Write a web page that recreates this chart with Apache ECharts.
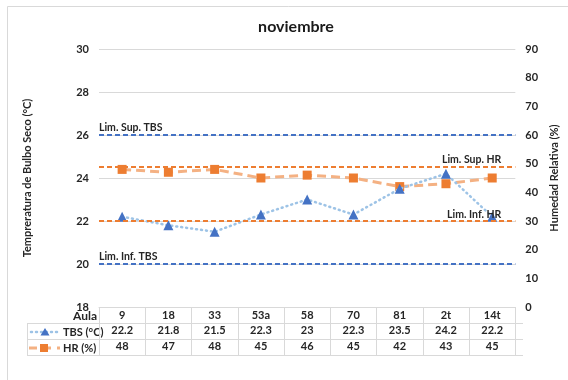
<!DOCTYPE html>
<html>
<head>
<meta charset="utf-8">
<script src="https://cdn.jsdelivr.net/npm/echarts@6/dist/echarts.min.js"></script>
<style>
  html, body { margin: 0; padding: 0; background: #fff; }
  #chart { width: 568px; height: 380px; }
</style>
</head>
<body>
<div id="chart"></div>
<script>
// Aulas (classrooms) measured in November
const aulas = ['9', '18', '33', '53a', '58', '70', '81', '2t', '14t'];
// Dry-bulb temperature (°C)
const tbs = [22.2, 21.8, 21.5, 22.3, 23, 22.3, 23.5, 24.2, 22.2];
// Relative humidity (%)
const hr = [48, 47, 48, 45, 46, 45, 42, 43, 45];

// Comfort limits
const limSupTBS = 26;
const limInfTBS = 20;
const limSupHR = 49;
const limInfHR = 30;

// Axis ranges
const tempAxis = { min: 18, max: 30, interval: 2 };
const humAxis = { min: 0, max: 90, interval: 10 };

const FONT = 'Lato';
const TXT = '#262626';
const GRIDC = '#d9d9d9';
const BLUE = '#4472c4';
const BLUE_L = '#9dc3e6';
const ORANGE = '#ed7d31';
const ORANGE_L = '#f4b183';

// Plot area and data-table layout
const G = { left: 99, right: 45, top: 49, bottom: 73 };
const W = 568, H = 380;
const plotR = W - G.right;          // 523
const plotB = H - G.bottom;         // 307
const rowH = 16;
const tableL = 27;

const chart = echarts.init(document.getElementById('chart'), null, { renderer: 'canvas' });

const boldLabel = { fontFamily: FONT, fontWeight: 'bold', fontSize: 11, color: TXT };

function tableAxis(values, offset) {
  return {
    type: 'category',
    data: values.map(String),
    position: 'bottom',
    offset: offset,
    boundaryGap: true,
    axisLine: { show: false },
    axisTick: { show: false },
    splitLine: { show: false },
    axisLabel: Object.assign({ margin: 2, interval: 0 }, boldLabel)
  };
}

const option = {
  backgroundColor: '#fff',
  animation: false,
  textStyle: { fontFamily: FONT },
  title: {
    text: 'noviembre',
    left: 291, top: 14,
    textAlign: 'center',
    textStyle: { fontFamily: FONT, fontWeight: 'bold', fontSize: 16, color: '#1a1a1a' }
  },
  grid: { left: G.left, right: G.right, top: G.top, bottom: G.bottom, containLabel: false },
  xAxis: [
    {
      type: 'category',
      data: aulas,
      position: 'bottom',
      boundaryGap: true,
      axisLine: { show: true, lineStyle: { color: GRIDC, width: 1 } },
      axisTick: { show: true, length: rowH * 3, lineStyle: { color: GRIDC, width: 1 } },
      axisLabel: Object.assign({ margin: 3, interval: 0 }, boldLabel)
    },
    tableAxis(tbs, rowH),
    tableAxis(hr, rowH * 2)
  ],
  yAxis: [
    {
      type: 'value',
      min: tempAxis.min, max: tempAxis.max, interval: tempAxis.interval,
      position: 'left',
      name: 'Tempreratura de Bulbo Seco (°C)',
      nameLocation: 'middle',
      nameGap: 66,
      nameTextStyle: { fontFamily: FONT, fontWeight: 'bold', fontSize: 11, color: TXT },
      axisLine: { show: false },
      axisTick: { show: false },
      axisLabel: Object.assign({ margin: 10 }, boldLabel),
      splitLine: { show: true, lineStyle: { color: GRIDC, width: 1 } }
    },
    {
      type: 'value',
      min: humAxis.min, max: humAxis.max, interval: humAxis.interval,
      position: 'right',
      name: 'Humedad Relativa (%)',
      nameLocation: 'middle',
      nameGap: 32,
      nameRotate: 90,
      nameTextStyle: { fontFamily: FONT, fontWeight: 'bold', fontSize: 11, color: TXT },
      axisLine: { show: false },
      axisTick: { show: false },
      axisLabel: Object.assign({ margin: 10 }, boldLabel),
      splitLine: { show: false }
    }
  ],
  series: [
    {
      name: 'TBS (°C)',
      type: 'line',
      xAxisIndex: 0,
      yAxisIndex: 0,
      data: tbs,
      symbol: 'triangle',
      symbolSize: 10,
      itemStyle: { color: BLUE },
      lineStyle: { color: BLUE_L, width: 2.5, type: [1, 4], cap: 'round' },
      z: 4,
      markLine: {
        silent: true,
        symbol: 'none',
        lineStyle: { color: BLUE, width: 1.8, type: [5, 3] },
        label: {
          position: 'insideStartTop',
          formatter: '{b}',
          fontFamily: FONT, fontWeight: 'bold', fontSize: 10.5, color: TXT,
          distance: [0, 2]
        },
        data: [
          { name: 'Lim. Sup. TBS', yAxis: limSupTBS },
          { name: 'Lim. Inf. TBS', yAxis: limInfTBS }
        ]
      }
    },
    {
      name: 'HR (%)',
      type: 'line',
      xAxisIndex: 0,
      yAxisIndex: 1,
      data: hr,
      symbol: 'rect',
      symbolSize: 9,
      itemStyle: { color: ORANGE },
      lineStyle: { color: ORANGE_L, width: 3, type: [9, 5] },
      z: 3,
      markLine: {
        silent: true,
        symbol: 'none',
        lineStyle: { color: ORANGE, width: 1.8, type: [5, 3] },
        label: {
          position: 'insideEndTop',
          formatter: '{b}',
          fontFamily: FONT, fontWeight: 'bold', fontSize: 10.5, color: TXT,
          distance: [14, 1]
        },
        data: [
          { name: 'Lim. Sup. HR', yAxis: limSupHR },
          { name: 'Lim. Inf. HR', yAxis: limInfHR }
        ]
      }
    }
  ],
  graphic: [
    // outer chart frame
    { type: 'rect', shape: { x: 7.5, y: 6.5, width: 700, height: 500 },
      style: { fill: 'none', stroke: GRIDC, lineWidth: 1 }, silent: true, z: -10 },
    // data table rules
    { type: 'line', shape: { x1: tableL, y1: plotB + rowH + 0.5, x2: plotR, y2: plotB + rowH + 0.5 },
      style: { stroke: GRIDC, lineWidth: 1 }, silent: true },
    { type: 'line', shape: { x1: tableL, y1: plotB + rowH * 2 + 0.5, x2: plotR, y2: plotB + rowH * 2 + 0.5 },
      style: { stroke: GRIDC, lineWidth: 1 }, silent: true },
    { type: 'line', shape: { x1: tableL, y1: plotB + rowH * 3 + 0.5, x2: plotR, y2: plotB + rowH * 3 + 0.5 },
      style: { stroke: GRIDC, lineWidth: 1 }, silent: true },
    { type: 'line', shape: { x1: tableL + 0.5, y1: plotB + rowH, x2: tableL + 0.5, y2: plotB + rowH * 3 + 0.5 },
      style: { stroke: GRIDC, lineWidth: 1 }, silent: true },
    // row headers
    { type: 'text', x: 97, y: plotB + rowH / 2 + 1,
      style: { text: 'Aula', fill: TXT, font: 'bold 12px ' + FONT, textAlign: 'right', textVerticalAlign: 'middle' } },
    { type: 'text', x: 63, y: plotB + rowH * 1.5 + 1,
      style: { text: 'TBS (°C)', fill: TXT, font: 'bold 11px ' + FONT, textAlign: 'left', textVerticalAlign: 'middle' } },
    { type: 'text', x: 63, y: plotB + rowH * 2.5 + 1,
      style: { text: 'HR (%)', fill: TXT, font: 'bold 11px ' + FONT, textAlign: 'left', textVerticalAlign: 'middle' } },
    // legend keys inside the table
    { type: 'line', shape: { x1: 31, y1: plotB + rowH * 1.5 + 1, x2: 60, y2: plotB + rowH * 1.5 + 1 },
      style: { stroke: BLUE_L, lineWidth: 2.5, lineDash: [1, 4], lineCap: 'round' }, silent: true },
    { type: 'polygon', shape: { points: [[45, plotB + rowH * 1.5 - 3], [49.5, plotB + rowH * 1.5 + 4.5], [40.5, plotB + rowH * 1.5 + 4.5]] },
      style: { fill: BLUE }, silent: true },
    { type: 'line', shape: { x1: 29, y1: plotB + rowH * 2.5 + 1, x2: 60, y2: plotB + rowH * 2.5 + 1 },
      style: { stroke: ORANGE_L, lineWidth: 3, lineDash: [8, 6] }, silent: true },
    { type: 'rect', shape: { x: 40, y: plotB + rowH * 2.5 - 3, width: 8, height: 8 },
      style: { fill: ORANGE }, silent: true }
  ]
};

chart.setOption(option);
</script>
</body>
</html>
